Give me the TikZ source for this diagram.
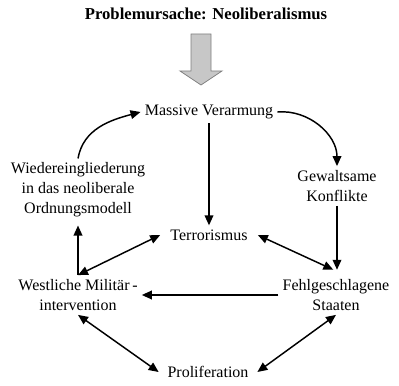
\documentclass[tikz,border=0pt]{standalone}
\usepackage{fontspec}
\setmainfont{Liberation Serif}
\usetikzlibrary{arrows.meta}

\begin{document}
\begin{tikzpicture}[x=0.75pt,y=0.75pt,
  every node/.style={font=\fontsize{12}{15}\selectfont, align=center, inner sep=3pt},
  link/.style={line width=1.1pt, -{Triangle[length=7.5pt,width=6.5pt]}},
  both/.style={line width=1.1pt, {Triangle[length=7.5pt,width=6.5pt]}-{Triangle[length=7.5pt,width=6.5pt]}}]
\useasboundingbox (0,0) rectangle (399,385);
% cause and block arrow
\node[font=\fontsize{12.5}{15}\selectfont\bfseries] (title) at (206,371) {Problemursache: Neoliberalismus};
\filldraw[fill=black!22, draw=black!50, line width=0.6pt] (191,351) -- (211,351) -- (211,314) -- (222,314) -- (201,300) -- (180,314) -- (191,314) -- cycle;
% nodes
\node (massive) at (209,273) {Massive Verarmung};
\node (wieder) at (78,195) {Wiedereingliederung\\in das neoliberale\\Ordnungsmodell};
\node (gewalt) at (337,199) {Gewaltsame\\Konflikte};
\node[inner xsep=7.5pt] (terror) at (209,150) {Terrorismus};
\node (westl) at (78,90) {Westliche Militär\,-\\intervention};
\node (fehl) at (336,90) {Fehlgeschlagene\\Staaten};
\node[inner xsep=6.5pt] (prolif) at (208,13) {Proliferation};
\coordinate (fehltop) at ([yshift=4pt]fehl.north);
% connectors
\draw[link] (massive) -- (terror);
\draw[link] (massive.east) to[out=5,in=90] (gewalt.north);
\draw[link] (wieder.north) to[out=80,in=195] (massive.west);
\draw[link] (gewalt.south) -- (gewalt.south |- fehltop);
\draw[link] (fehl) -- (westl);
\draw[link] (westl.north) -- ([yshift=-3pt]wieder.south);
\draw[both] (westl.north) -- (terror.west);
\draw[both] (terror.east) -- ([xshift=-2pt]fehltop);
\draw[both] (westl.south) -- (prolif.west);
\draw[both] (fehl.south) -- (prolif.east);
\end{tikzpicture}
\end{document}
